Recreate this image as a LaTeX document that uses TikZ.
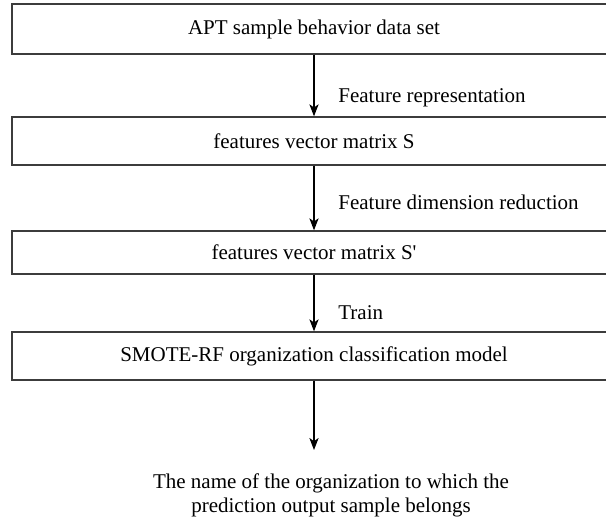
\documentclass[tikz,border=0pt]{standalone}
\usepackage{fontspec}
\setmainfont{Liberation Serif}
\usetikzlibrary{arrows.meta}
\definecolor{boxline}{HTML}{3C3C3C}
\begin{document}
\begin{tikzpicture}[x=0.5pt,y=-0.5pt,
  stagebox/.style={draw=boxline,line width=0.7pt,rectangle,minimum width=302pt,inner sep=0pt,font=\fontsize{10.5}{12}\selectfont},
  flow/.style={draw=black,line width=0.55pt,-{Stealth[length=6pt,width=4.6pt,inset=1.6pt]}},
  steplabel/.style={anchor=west,inner sep=0pt,font=\fontsize{10.5}{12}\selectfont}]
  \useasboundingbox (0,0) rectangle (606,520);
  \fill[white] (0,0) rectangle (606,520);

  % processing stages
  \node[stagebox,minimum height=25pt]   (data)  at (314,29)    {APT sample behavior data set};
  \node[stagebox,minimum height=24pt]   (mats)  at (314,141)   {features vector matrix S};
  \node[stagebox,minimum height=21.5pt] (matsp) at (314,252.5) {features vector matrix S\textquotesingle};
  \node[stagebox,minimum height=24pt]   (model) at (314,356)   {SMOTE-RF organization classification model};

  % result text
  \node[align=center,inner sep=0pt,font=\fontsize{10.5}{12}\selectfont] (result) at (331,495)
    {The name of the organization to which the\\prediction output sample belongs};
  \coordinate (resultin) at (314,450);

  % connectors
  \draw[flow] (data.south) -- (mats.north);
  \draw[flow] (mats.south) -- (matsp.north);
  \draw[flow] (matsp.south) -- (model.north);
  \draw[flow] (model.south) -- (resultin);

  % connector labels
  \node[steplabel] (lab1) at (338,98)  {Feature representation};
  \node[steplabel] (lab2) at (338,202) {Feature dimension reduction};
  \node[steplabel] (lab3) at (338,313) {Train};
\end{tikzpicture}
\end{document}
